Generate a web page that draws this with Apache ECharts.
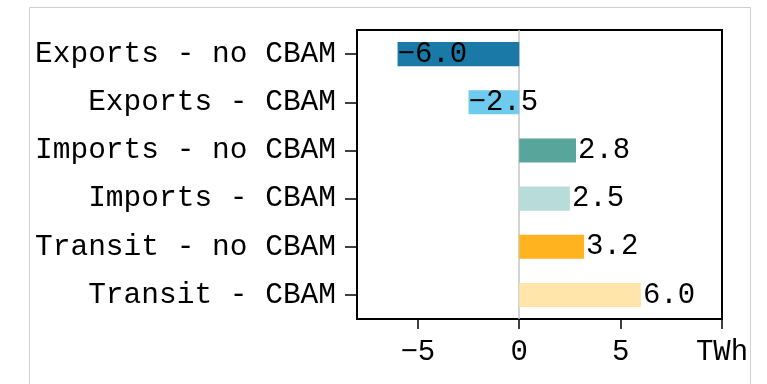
<!DOCTYPE html>
<html>
<head>
<meta charset="utf-8">
<title>CBAM electricity flows</title>
<script src="https://cdn.jsdelivr.net/npm/echarts@6/dist/echarts.min.js"></script>
<style>
  html, body { margin: 0; padding: 0; background: #fff; }
  #chart { width: 767px; height: 384px; }
</style>
</head>
<body>
<div id="chart"></div>
<script>
// Change in electricity flows per scenario (TWh)
const categories = [
  'Exports - no CBAM',
  'Exports - CBAM',
  'Imports - no CBAM',
  'Imports - CBAM',
  'Transit - no CBAM',
  'Transit - CBAM'
];
const values = [-6.0, -2.5, 2.8, 2.5, 3.2, 6.0];
const xTicks = [-5, 0, 5, 10];
const unitLabel = 'TWh';

const palette = ['#1a79a6', '#6ecaee', '#58a59b', '#b8dcd9', '#ffb41f', '#ffe5aa'];

const FONT = '"Courier New", "Liberation Mono", monospace';
const SIZE = 29;
const fmt = v => (v < 0 ? '\u2212' : '') + Math.abs(v).toFixed(1);

const chart = echarts.init(document.getElementById('chart'), null, { renderer: 'canvas' });

chart.setOption({
  animation: false,
  backgroundColor: '#fff',
  textStyle: { fontFamily: FONT, color: '#000' },
  graphic: [{
    type: 'rect',
    silent: true,
    z: -1,
    shape: { x: 29.5, y: 7.5, width: 721, height: 400 },
    style: { fill: 'none', stroke: '#d0d0d0', lineWidth: 1 }
  }],
  grid: {
    left: 357, right: 45, top: 30, bottom: 65,
    show: true, borderColor: '#000', borderWidth: 2, backgroundColor: 'transparent'
  },
  xAxis: {
    type: 'value',
    min: -8, max: 10,
    splitLine: { show: false },
    axisLine: { show: false },
    axisTick: {
      show: true, length: 10, inside: false,
      customValues: xTicks,
      lineStyle: { color: '#000', width: 1.5 }
    },
    axisLabel: {
      customValues: xTicks,
      margin: 19,
      fontSize: SIZE, fontFamily: FONT, color: '#000',
      formatter: v => (v === 10 ? unitLabel : (v < 0 ? '\u2212' + Math.abs(v) : String(v)))
    }
  },
  yAxis: {
    type: 'category',
    data: categories,
    inverse: true,
    axisLine: { show: false, onZero: false },
    axisTick: {
      show: true, alignWithLabel: true, length: 12,
      lineStyle: { color: '#000', width: 1.5 }
    },
    axisLabel: {
      margin: 21,
      fontSize: 29.5, fontFamily: FONT, color: '#000'
    },
    splitLine: { show: false }
  },
  series: [{
    type: 'bar',
    barWidth: '50%',
    data: values.map((v, i) => ({
      value: v,
      itemStyle: { color: palette[i] },
      label: {
        show: true,
        position: v < 0 ? 'insideLeft' : 'right',
        distance: v < 0 ? 0 : 2,
        formatter: () => fmt(v),
        fontSize: SIZE, fontFamily: FONT, color: '#000'
      }
    })),
    markLine: {
      silent: true,
      symbol: 'none',
      label: { show: false },
      lineStyle: { color: '#c4c4c4', width: 1.5, type: 'solid' },
      data: [{ xAxis: 0 }],
      z: 1
    },
    z: 2
  }]
});
</script>
</body>
</html>
